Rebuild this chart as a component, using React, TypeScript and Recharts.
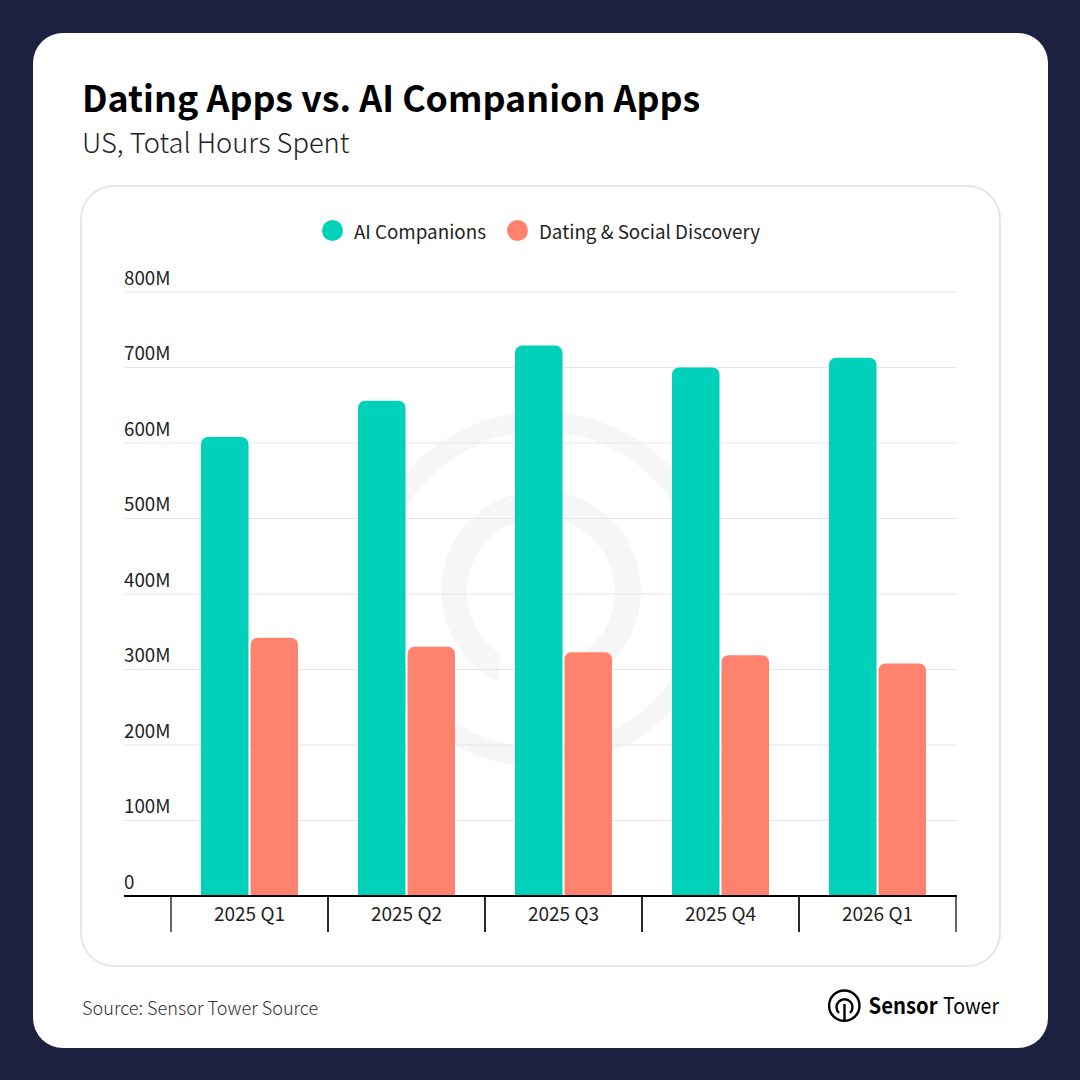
import { BarChart, Bar, XAxis, YAxis, CartesianGrid, Legend } from 'recharts'

const categories = ['2025 Q1', '2025 Q2', '2025 Q3', '2025 Q4', '2026 Q1']
const aiCompanions = [608, 656, 729, 700, 713]
const datingSocial = [342, 330, 323, 319, 308]
const yTicks = [0, 100, 200, 300, 400, 500, 600, 700, 800]

const rows = categories.map((quarter, i) => ({
  quarter,
  ai: aiCompanions[i],
  dating: datingSocial[i],
}))

const FONT = '"Noto Sans CJK JP", "Noto Sans", sans-serif'
const TEXT = '#1f1f1f'
const BAND = 157

function YTick({ y, payload }: any) {
  return (
    <text x={124} y={y - 7.5} fontSize={18.8} fontFamily={FONT} fill={TEXT}>
      {payload.value === 0 ? '0' : `${payload.value}M`}
    </text>
  )
}

function XTick({ x, y, payload }: any) {
  return (
    <g>
      <line x1={x - BAND / 2} x2={x - BAND / 2} y1={896} y2={932} stroke="#000" strokeWidth={1.2} />
      <line x1={x + BAND / 2} x2={x + BAND / 2} y1={896} y2={932} stroke="#000" strokeWidth={1.2} />
      <text x={x} y={y + 17} textAnchor="middle" fontSize={19} fontFamily={FONT} fill={TEXT}>
        {payload.value}
      </text>
    </g>
  )
}

function ChartLegend({ payload }: any) {
  return (
    <div style={{ display: 'flex', justifyContent: 'center', gap: 21, fontFamily: FONT, fontSize: 18.8, color: TEXT, marginTop: -2, marginLeft: 2 }}>
      {(payload || []).map((item: any) => (
        <div key={item.value} style={{ display: 'flex', alignItems: 'center', gap: 11, height: 28 }}>
          <span style={{ width: 21, height: 21, borderRadius: '50%', background: item.color }} />
          <span>{item.value}</span>
        </div>
      ))}
    </div>
  )
}

function Watermark() {
  return (
    <svg width={1080} height={1080} style={{ position: 'absolute', left: 0, top: 0 }}>
      <circle cx={541} cy={589.5} r={168} fill="none" stroke="#f6f6f6" strokeWidth={20} />
      <path d="M 498 681 A 100 100 0 1 1 584 681 L 581 654 A 74 74 0 1 0 501 654 Z" fill="#f6f6f6" />
      <path d="M 541 592 L 541 760" stroke="#f6f6f6" strokeWidth={26} />
    </svg>
  )
}

function Logo() {
  return (
    <svg width={1080} height={1080} style={{ position: 'absolute', left: 0, top: 0 }}>
      <circle cx={844.3} cy={1005.7} r={15.2} fill="none" stroke="#000" strokeWidth={2.4} />
      <path d="M 839 1013 A 8 8 0 1 1 850 1013" fill="none" stroke="#000" strokeWidth={2.4} />
      <path d="M 844.5 1004 L 844.5 1020" stroke="#000" strokeWidth={2.4} />
      <text x={868.5} y={1013.5} fontFamily={FONT} fontWeight={700} fontSize={22.5} textLength={69} lengthAdjust="spacingAndGlyphs" fill="#000">
        Sensor
      </text>
      <text x={943} y={1013.5} fontFamily={FONT} fontSize={22.5} textLength={56} lengthAdjust="spacingAndGlyphs" fill="#000">
        Tower
      </text>
    </svg>
  )
}

export default function App() {
  return (
    <div style={{ position: 'absolute', left: 0, top: 0, width: 1080, height: 1080, background: '#1d2140', fontFamily: FONT, overflow: 'hidden' }}>
      <div style={{ position: 'absolute', left: 33, top: 33, width: 1015, height: 1015, background: '#fff', borderRadius: 30 }} />
      <div style={{ position: 'absolute', left: 82, top: 70, fontSize: 35.8, lineHeight: '52px', fontWeight: 700, color: '#000', whiteSpace: 'nowrap' }}>
        Dating Apps vs. AI Companion Apps
      </div>
      <div style={{ position: 'absolute', left: 82, top: 121, fontSize: 27.3, lineHeight: '40px', fontWeight: 300, color: '#222', whiteSpace: 'nowrap' }}>
        US, Total Hours Spent
      </div>
      <div style={{ position: 'absolute', left: 80, top: 185, width: 917, height: 778, border: '2px solid #e6e6e6', borderRadius: 34 }} />
      <Watermark />
      <div style={{ position: 'absolute', left: 0, top: 0 }}>
        <BarChart
          width={1080}
          height={1080}
          data={rows}
          barSize={47.5}
          barGap={2}
          margin={{ top: 218, right: 123, bottom: 148, left: 123 }}
        >
          <CartesianGrid vertical={false} horizontal stroke="#e6e6e6" strokeWidth={1} />
          <XAxis
            dataKey="quarter"
            height={36}
            padding={{ left: 47, right: 1 }}
            axisLine={{ stroke: '#000', strokeWidth: 2 }}
            tickLine={false}
            interval={0}
            tick={<XTick />}
          />
          <YAxis width={1} domain={[0, 800]} ticks={yTicks} axisLine={false} tickLine={false} tick={<YTick />} />
          <Legend verticalAlign="top" height={74} content={<ChartLegend />} />
          <Bar dataKey="ai" name="AI Companions" fill="#00d1b8" radius={[7, 7, 0, 0]} isAnimationActive={false} />
          <Bar dataKey="dating" name="Dating & Social Discovery" fill="#ff826e" radius={[7, 7, 0, 0]} isAnimationActive={false} />
        </BarChart>
      </div>
      <div style={{ position: 'absolute', left: 82, top: 993, fontSize: 18.1, lineHeight: '28px', fontWeight: 300, color: '#333', whiteSpace: 'nowrap' }}>
        Source: Sensor Tower Source
      </div>
      <Logo />
    </div>
  )
}
